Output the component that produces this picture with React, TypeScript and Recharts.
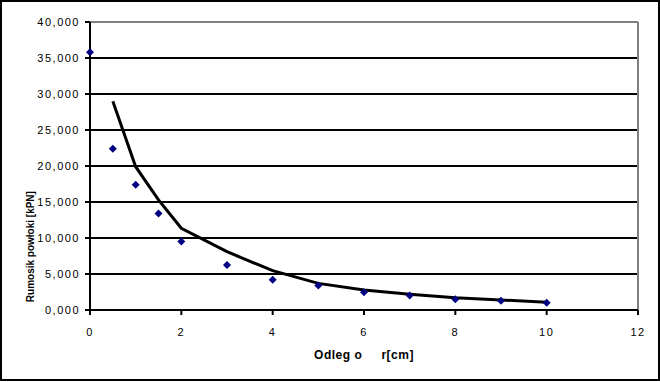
import { CartesianGrid, ComposedChart, Line, ReferenceLine, Scatter, XAxis, YAxis } from "recharts";

// measured points (dark blue diamonds)
const measX = [0, 0.5, 1, 1.5, 2, 3, 4, 5, 6, 7, 8, 9, 10];
const measY = [35.8, 22.4, 17.4, 13.4, 9.5, 6.25, 4.2, 3.4, 2.45, 2.0, 1.5, 1.3, 1.02];

// fitted curve (black line)
const fitX = [0.5, 1, 1.5, 2, 3, 4, 5, 6, 7, 8, 9, 10];
const fitY = [29.0, 19.9, 15.3, 11.35, 8.1, 5.46, 3.7, 2.78, 2.18, 1.71, 1.39, 1.07];

const xTicks = [0, 2, 4, 6, 8, 10, 12];
const yTicks = [0, 5, 10, 15, 20, 25, 30, 35, 40];

const xTitle = "Odleg o\u00a0\u00a0\u00a0\u00a0\u00a0r[cm]";
const yTitle = "Rumosik powłoki [kPN]";

const measData = measX.map((x, i) => ({ x, y: measY[i] }));
const fitData = fitX.map((x, i) => ({ x, y: fitY[i] }));

const tickStyle = { fontFamily: "Liberation Sans, Arial", fontSize: 11, fill: "#000", letterSpacing: 1.5 };

function Diamond(props: any) {
  const { cx, cy } = props;
  const r = 4;
  return (
    <polygon
      points={`${cx},${cy - r} ${cx + r},${cy} ${cx},${cy + r} ${cx - r},${cy}`}
      fill="#000080"
    />
  );
}

// y title sits low, over the tick labels, like the original sheet
function YTitle(props: any) {
  const vb = props.viewBox || {};
  const x = (vb.x ?? 0) + 31;
  const y = (vb.y ?? 0) + (vb.height ?? 0) * 0.78;
  return (
    <text
      x={x}
      y={y}
      transform={`rotate(-90, ${x}, ${y})`}
      textAnchor="middle"
      dominantBaseline="central"
      style={{ fontFamily: "Liberation Sans, Arial", fontSize: 10, fontWeight: "bold", fill: "#000" }}
    >
      {yTitle}
    </text>
  );
}

export default function App() {
  return (
    <>
      <div
        style={{
          position: "absolute",
          left: 0,
          top: 0,
          width: 660,
          height: 381,
          border: "2px solid #000",
          boxSizing: "border-box",
          background: "#fff"
        }}
      />
      <div style={{ position: "absolute", left: 0, top: 0 }}>
        <ComposedChart width={660} height={382} margin={{ top: 22, right: 22, bottom: 0, left: 0 }}>
          <CartesianGrid vertical={false} stroke="#000" strokeWidth={2} />
          <XAxis
            type="number"
            dataKey="x"
            domain={[0, 12]}
            ticks={xTicks}
            height={72}
            stroke="#000"
            strokeWidth={2}
            tickSize={5}
            tickMargin={13}
            tick={tickStyle}
            label={{
              value: xTitle,
              position: "insideBottom",
              offset: 23,
              style: { fontFamily: "Liberation Sans, Arial", fontSize: 12, fontWeight: "bold", fill: "#000", letterSpacing: 0.5 }
            }}
          />
          <YAxis
            type="number"
            dataKey="y"
            domain={[0, 40]}
            ticks={yTicks}
            width={90}
            stroke="#000"
            strokeWidth={2}
            tickSize={5}
            tickMargin={5}
            tick={tickStyle}
            tickFormatter={(v: number) => v.toFixed(3).replace(".", ",")}
            label={<YTitle />}
          />
          <ReferenceLine y={40} stroke="#808080" strokeWidth={2} />
          <ReferenceLine x={12} stroke="#808080" strokeWidth={2} />
          <Line
            data={fitData}
            dataKey="y"
            type="linear"
            stroke="#000"
            strokeWidth={3}
            dot={false}
            isAnimationActive={false}
          />
          <Scatter data={measData} dataKey="y" shape={<Diamond />} isAnimationActive={false} />
        </ComposedChart>
      </div>
    </>
  );
}
